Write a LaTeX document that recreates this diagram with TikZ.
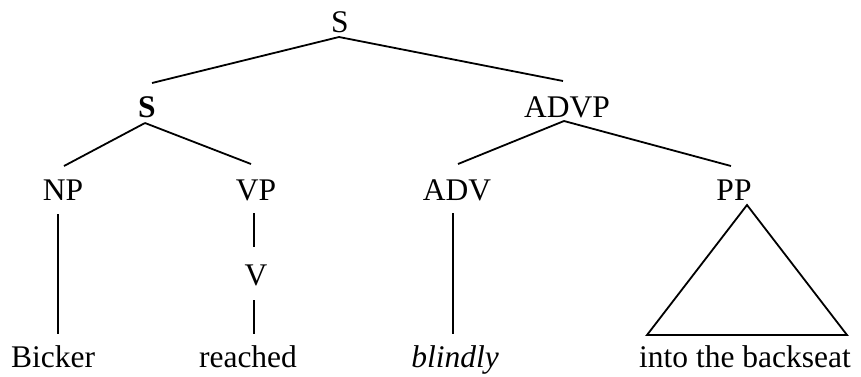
\documentclass[tikz,border=0pt]{standalone}
\usepackage{fontspec}
\setmainfont{Liberation Serif}
\begin{document}
\begin{tikzpicture}[x=1pt,y=-1pt,
    cat/.style={anchor=base,inner sep=0pt,font=\fontsize{31.5}{38}\selectfont},
    branch/.style={line width=1.8pt,line cap=butt}]
  \useasboundingbox (0,0) rectangle (861,376);

  % phrase labels
  \node[cat] (s)    at (340,32)  {S};
  \node[cat,font=\fontsize{31.5}{38}\selectfont\bfseries] (s2) at (147,117) {S};
  \node[cat] (advp) at (567,117) {ADVP};
  \node[cat] (np)   at (63,200)  {NP};
  \node[cat] (vp)   at (256,200) {VP};
  \node[cat] (adv)  at (457,200) {ADV};
  \node[cat] (pp)   at (734,200) {PP};
  \node[cat] (v)    at (256,285) {V};

  % words
  \node[cat] (w1) at (53,367)  {Bicker};
  \node[cat] (w2) at (248,367) {reached};
  \node[cat] (w3) at (455,367) {\itshape blindly};
  \node[cat] (w4) at (745,367) {into the backseat};

  % branches
  \draw[branch] ([shift={(-1,5)}]s.base) -- ([shift={(5,-34)}]s2.base);
  \draw[branch] ([shift={(-1,5)}]s.base) -- ([shift={(-4,-36)}]advp.base);
  \draw[branch] ([shift={(-2,6)}]s2.base) -- ([shift={(1,-34)}]np.base);
  \draw[branch] ([shift={(-2,6)}]s2.base) -- ([shift={(-5,-36)}]vp.base);
  \draw[branch] ([shift={(-3,4)}]advp.base) -- ([shift={(1,-36)}]adv.base);
  \draw[branch] ([shift={(-3,4)}]advp.base) -- ([shift={(-3,-34)}]pp.base);
  \draw[branch] ([shift={(-5,14)}]np.base) -- ([shift={(5,-33)}]w1.base);
  \draw[branch] ([shift={(-2,13)}]vp.base) -- ([shift={(-2,-38)}]v.base);
  \draw[branch] ([shift={(-2,15)}]v.base) -- ([shift={(6,-33)}]w2.base);
  \draw[branch] ([shift={(-4,13)}]adv.base) -- ([shift={(-2,-33)}]w3.base);

  % roof over the prepositional phrase
  \draw[branch,line join=miter] ([shift={(13,5)}]pp.base)
    -- ([shift={(-98,-32)}]w4.base) -- ([shift={(102,-32)}]w4.base) -- cycle;
\end{tikzpicture}
\end{document}
